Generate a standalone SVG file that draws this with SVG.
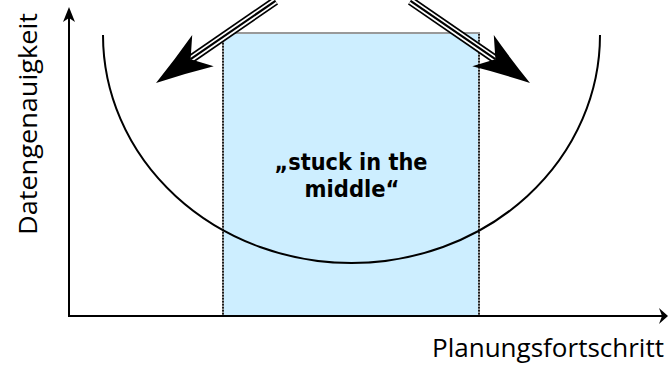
<svg xmlns="http://www.w3.org/2000/svg" width="668" height="368" viewBox="0 0 668 368">
<style>
.axis{stroke:#000;stroke-width:2;fill:none}
.lbl{font-family:"Open Sans","Noto Sans",sans-serif;font-size:25px;fill:#000}
.mid{font-family:"DejaVu Sans","Open Sans",sans-serif;font-size:23px;font-weight:bold;fill:#000;text-anchor:middle}
</style>
<defs>
<g id="darrow">
<line x1="-145" y1="0" x2="-42" y2="0" stroke="#000" stroke-width="9"/>
<line x1="-145" y1="0" x2="-42" y2="0" stroke="#fff" stroke-width="5.6"/>
<line x1="-145" y1="0" x2="-42" y2="0" stroke="#000" stroke-width="2.2"/>
<path d="M0,0 Q-30,9 -57,19 L-42,0 L-57,-19 Q-30,-9 0,0 Z" fill="#000"/>
</g>
</defs>
<rect width="668" height="368" fill="#fff"/>
<g id="zone">
<rect x="223" y="33" width="256" height="283" fill="#cdeeff"/>
<line x1="222" y1="33" x2="480" y2="33" stroke="#999" stroke-width="2"/>
<line x1="223" y1="33" x2="223" y2="316" stroke="#999" stroke-width="2"/>
<line x1="479" y1="33" x2="479" y2="316" stroke="#999" stroke-width="2"/>
<line x1="223" y1="34" x2="223" y2="316" stroke="#000" stroke-width="1.6" stroke-dasharray="1.5 1.5"/>
<line x1="479" y1="34" x2="479" y2="316" stroke="#000" stroke-width="1.6" stroke-dasharray="1.5 1.5"/>
<text class="mid"><tspan x="351" y="170" textLength="153" lengthAdjust="spacingAndGlyphs">„stuck in the</tspan><tspan x="352" y="197" textLength="95" lengthAdjust="spacingAndGlyphs">middle“</tspan></text>
</g>
<g id="curve">
<path d="M103,35 A248.5 228 0 0 0 600,35" class="axis"/>
</g>
<g id="axes">
<line x1="69" y1="316" x2="663" y2="316" class="axis"/>
<path d="M668,316 L659,308 L662,316 L659,324 Z" fill="#000"/>
<line x1="69" y1="317" x2="69" y2="14" class="axis"/>
<path d="M69,7 L75,22 L69,18 L63,22 Z" fill="#000"/>
<text class="lbl" transform="translate(37,124) rotate(-90)" text-anchor="middle" textLength="222" lengthAdjust="spacingAndGlyphs">Datengenauigkeit</text>
<text class="lbl" x="432" y="357" textLength="232" lengthAdjust="spacingAndGlyphs">Planungsfortschritt</text>
</g>
<g id="connectors">
<use href="#darrow" transform="translate(156,83) rotate(145.5)"/>
<use href="#darrow" transform="translate(530,83) rotate(34.5)"/>
</g>
</svg>
